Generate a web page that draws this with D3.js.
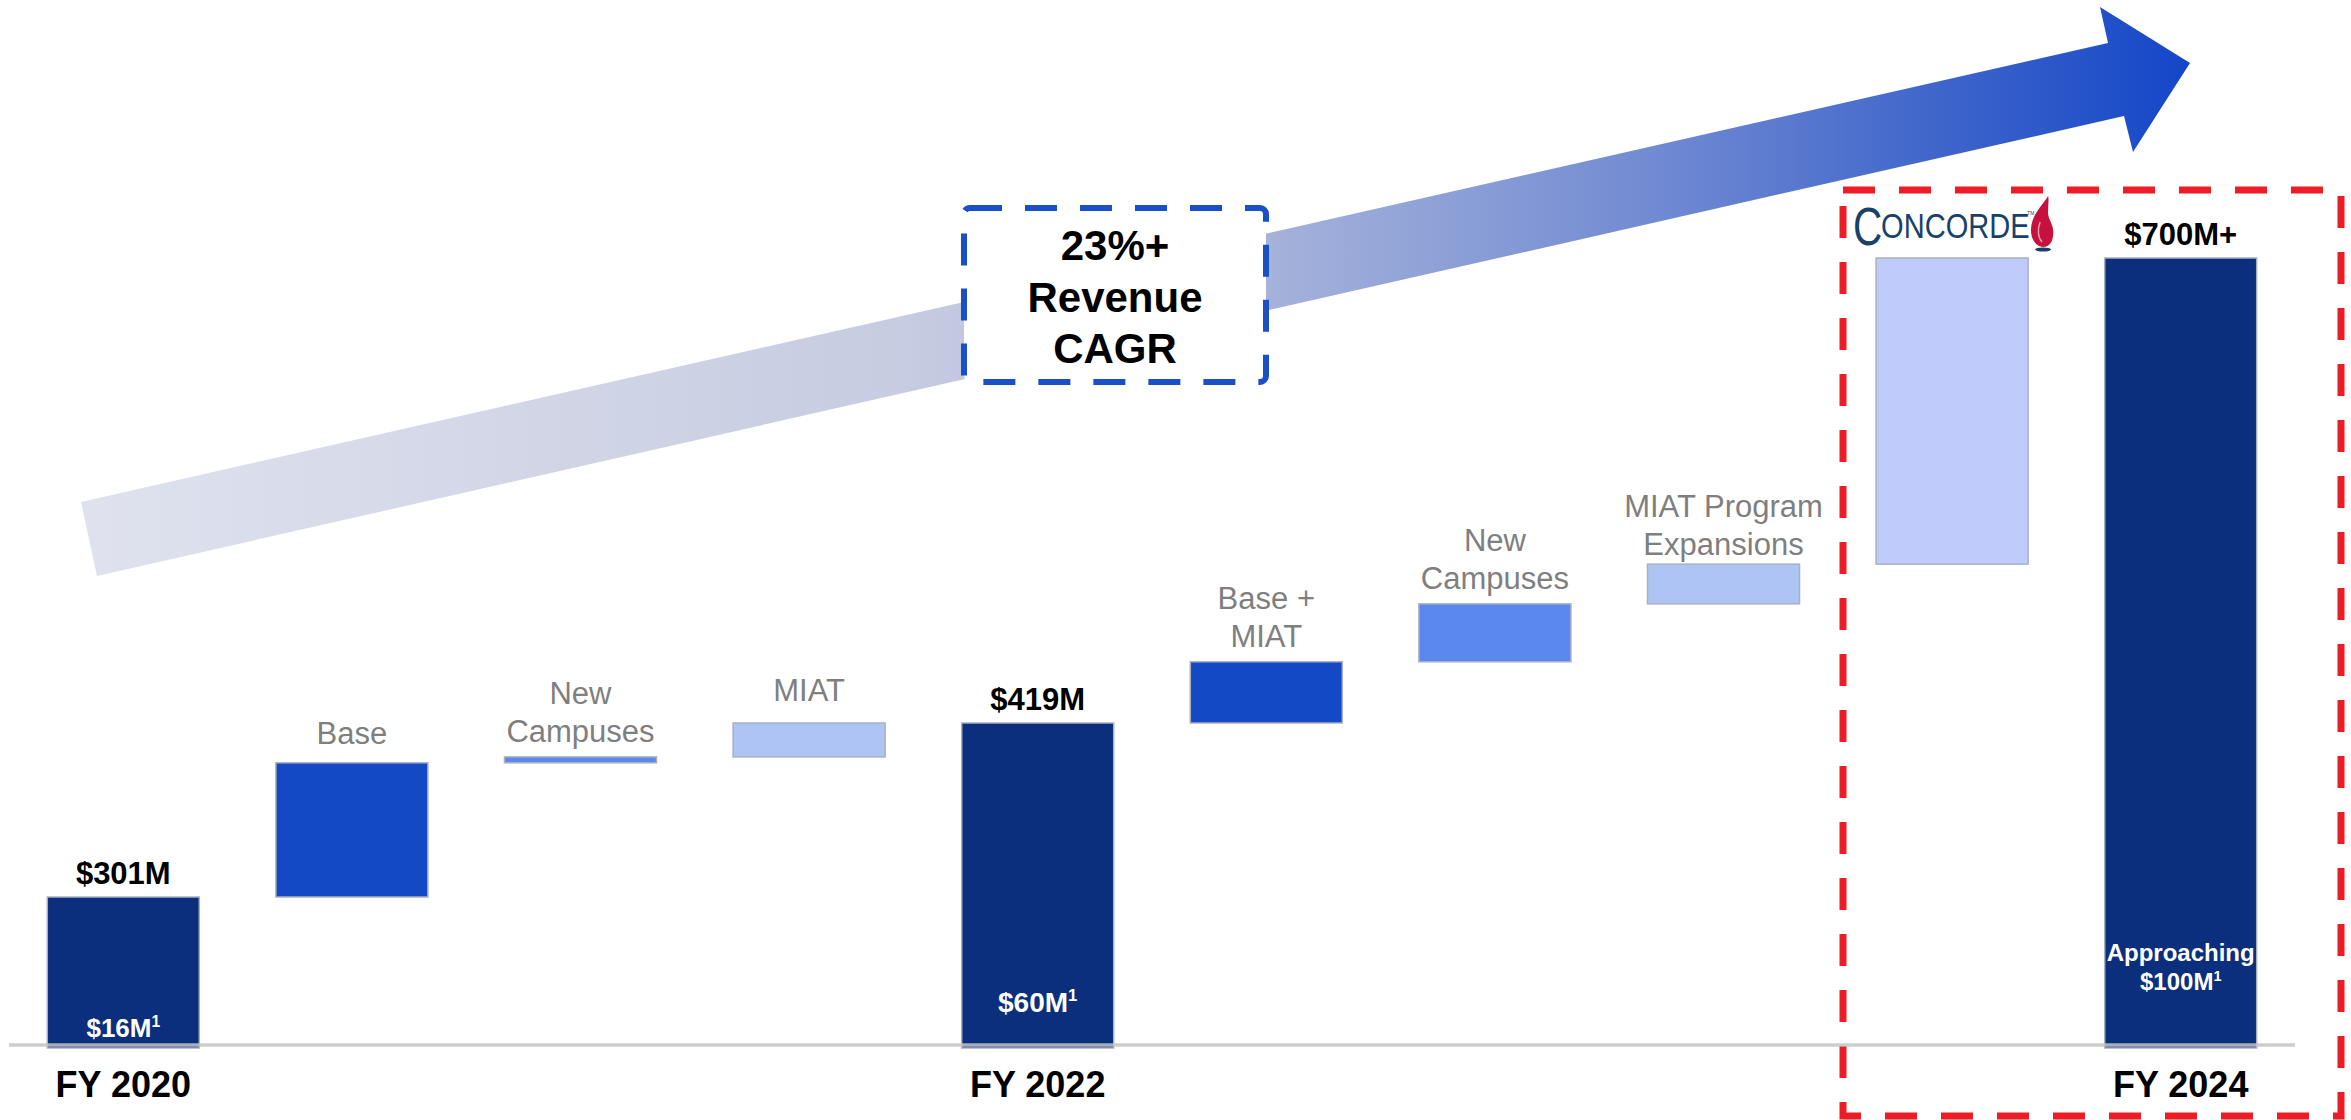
<!DOCTYPE html>
<html>
<head>
<meta charset="utf-8">
<script src="https://cdn.jsdelivr.net/npm/d3@7"></script>
<style>
  body { margin: 0; background: #fff; }
  text { font-family: "Liberation Sans", Arial, sans-serif; }
</style>
</head>
<body>
<div id="chart"></div>
<script>
// Waterfall steps, left to right
var steps = ["FY 2020", "Base", "New Campuses", "MIAT", "FY 2022", "Base + MIAT", "New Campuses", "MIAT Program Expansions", "Concorde", "FY 2024"];
var stepKinds = ["total", "base", "campus", "miat", "total", "base", "campus", "miat", "concorde", "total"];
var stepValues = [301, 91, 4, 23, 419, 37, 35, 24, 185, 700];
var totalLabels = ["$301M", "", "", "", "$419M", "", "", "", "", "$700M+"];
var stepLabels = [[], ["Base"], ["New", "Campuses"], ["MIAT"], [], ["Base +", "MIAT"], ["New", "Campuses"], ["MIAT Program", "Expansions"], [], []];
var innerLabels = [["$16M"], [], [], [], ["$60M"], [], [], [], [], ["Approaching", "$100M"]];
var axisLabels = ["FY 2020", "", "", "", "FY 2022", "", "", "", "", "FY 2024"];
var cagrLines = ["23%+", "Revenue", "CAGR"];
// the slide is not drawn to scale, so the axis is piecewise between the labelled totals
var scaleStops = [0, 301, 419, 700];

var W = 2351, H = 1120;

var colors = {
    total: "#0b2f7d",
    base: "#1349c4",
    campus: "#5b88ee",
    miat: "#adc4f5",
    concorde: "#bfcbfa"
};

// gap between grey step names and their bar
var labelGaps = [0, 19, 15, 22, 0, 15, 15, 9, 0, 0];
// where the white labels sit inside the total bars (px above the baseline, font size)
var innerOffsets = [[8], [], [], [], [33], [], [], [], [], [84, 55]];
var innerSizes = [26, 0, 0, 0, 28, 0, 0, 0, 0, 24];

var svg = d3.select("#chart")
    .append("svg")
    .attr("width", W)
    .attr("height", H);

var x = d3.scaleBand()
    .domain(d3.range(steps.length))
    .range([9, 2295])
    .paddingInner(0.335)
    .paddingOuter(0.1675);

var y = d3.scaleLinear()
    .domain(scaleStops)
    .range([1045, 897, 723, 258]);

// Running start / end of each step
var bars = [];
var running = 0;
stepValues.forEach(function(v, i) {
    if (stepKinds[i] === "total") {
        bars.push({ i: i, y0: 0, y1: v });
        running = v;
    } else {
        bars.push({ i: i, y0: running, y1: running + v });
        running += v;
    }
});

// Gradient arrow in the background
var defs = svg.append("defs");
var grad = defs.append("linearGradient")
    .attr("id", "arrowGrad")
    .attr("gradientUnits", "userSpaceOnUse")
    .attr("x1", 81).attr("y1", 0)
    .attr("x2", 2190).attr("y2", 0);
[[0, "#dfe2ee"], [0.39, "#c6cce1"], [0.56, "#a6b3da"], [0.75, "#7089d2"], [0.886, "#3d64cb"], [1, "#1446c8"]]
    .forEach(function(s) {
        grad.append("stop").attr("offset", s[0]).attr("stop-color", s[1]);
    });

svg.append("polygon")
    .attr("points", "81,502 2108,43 2100,7 2190,63 2133,152 2124,116 97,576")
    .attr("fill", "url(#arrowGrad)");

// CAGR call-out box
svg.append("rect")
    .attr("x", 964).attr("y", 208)
    .attr("width", 302).attr("height", 174)
    .attr("rx", 6)
    .attr("fill", "#fff")
    .attr("stroke", "#1a4fc8")
    .attr("stroke-width", 6)
    .attr("stroke-dasharray", "32 23");

svg.append("g")
    .selectAll("text")
    .data(cagrLines)
    .enter()
    .append("text")
    .attr("x", 1115)
    .attr("y", function(d, i) { return 260 + i * 51.5; })
    .attr("text-anchor", "middle")
    .attr("font-size", 42)
    .attr("font-weight", "bold")
    .attr("fill", "#000")
    .text(function(d) { return d; });

// Red dashed box around the FY 2024 part
svg.append("rect")
    .attr("x", 1843).attr("y", 190)
    .attr("width", 498).attr("height", 926)
    .attr("fill", "none")
    .attr("stroke", "#ee1c25")
    .attr("stroke-width", 7)
    .attr("stroke-dasharray", "32 24");

// Bars
svg.append("g")
    .selectAll("rect")
    .data(bars)
    .enter()
    .append("rect")
    .attr("x", function(d) { return x(d.i); })
    .attr("y", function(d) { return y(d.y1); })
    .attr("width", x.bandwidth())
    .attr("height", function(d) {
        return y(d.y0) - y(d.y1) + (stepKinds[d.i] === "total" ? 3 : 0);
    })
    .attr("fill", function(d) { return colors[stepKinds[d.i]]; })
    .attr("stroke", "#a9b0c0")
    .attr("stroke-width", 1.5);

// Baseline
svg.append("line")
    .attr("x1", x.range()[0]).attr("x2", x.range()[1])
    .attr("y1", y(0)).attr("y2", y(0))
    .attr("stroke", "#c4c4c4")
    .attr("stroke-opacity", 0.85)
    .attr("stroke-width", 3.5);

// Totals above the bars
svg.append("g")
    .selectAll("text")
    .data(bars.filter(function(d) { return totalLabels[d.i]; }))
    .enter()
    .append("text")
    .attr("x", function(d) { return x(d.i) + x.bandwidth() / 2; })
    .attr("y", function(d) { return y(d.y1) - 13; })
    .attr("text-anchor", "middle")
    .attr("font-size", 31)
    .attr("font-weight", "bold")
    .attr("fill", "#000")
    .text(function(d) { return totalLabels[d.i]; });

// Grey step names
var stepG = svg.append("g")
    .selectAll("text")
    .data(bars.filter(function(d) { return stepLabels[d.i].length; }))
    .enter()
    .append("text")
    .attr("text-anchor", "middle")
    .attr("font-size", 31)
    .attr("fill", "#7f7f7f");

stepG.selectAll("tspan")
    .data(function(d) {
        var lines = stepLabels[d.i];
        return lines.map(function(t, k) {
            return {
                t: t,
                x: x(d.i) + x.bandwidth() / 2,
                y: y(d.y1) - labelGaps[d.i] - (lines.length - 1 - k) * 38
            };
        });
    })
    .enter()
    .append("tspan")
    .attr("x", function(d) { return d.x; })
    .attr("y", function(d) { return d.y; })
    .text(function(d) { return d.t; });

// White labels inside the total bars, with footnote mark
bars.filter(function(d) { return innerLabels[d.i].length; }).forEach(function(d) {
    var lines = innerLabels[d.i];
    lines.forEach(function(t, k) {
        var txt = svg.append("text")
            .attr("x", x(d.i) + x.bandwidth() / 2)
            .attr("y", y(0) - innerOffsets[d.i][k])
            .attr("text-anchor", "middle")
            .attr("font-size", innerSizes[d.i])
            .attr("font-weight", "bold")
            .attr("fill", "#fff");
        txt.append("tspan").text(t);
        if (k === lines.length - 1) {
            txt.append("tspan")
                .attr("font-size", innerSizes[d.i] * 0.6)
                .attr("dy", -innerSizes[d.i] * 0.38)
                .text("1");
        }
    });
});

// Category axis labels
svg.append("g")
    .selectAll("text")
    .data(bars.filter(function(d) { return axisLabels[d.i]; }))
    .enter()
    .append("text")
    .attr("x", function(d) { return x(d.i) + x.bandwidth() / 2; })
    .attr("y", 1097)
    .attr("text-anchor", "middle")
    .attr("font-size", 36)
    .attr("font-weight", "bold")
    .attr("fill", "#000")
    .text(function(d) { return axisLabels[d.i]; });

// Concorde logo above its bar
var cx = x(8) + x.bandwidth() / 2;
var logo = svg.append("g").attr("transform", "translate(" + cx + ",0)");
var serif = "'Liberation Serif', 'DejaVu Serif', serif";
logo.append("text")
    .attr("transform", "translate(-99,245) scale(0.75,1)")
    .attr("font-family", serif)
    .attr("font-size", 54)
    .attr("fill", "#17416a")
    .text("C");
logo.append("text")
    .attr("transform", "translate(-71,238) scale(0.83,1)")
    .attr("font-family", serif)
    .attr("font-size", 35)
    .attr("fill", "#17416a")
    .text("ONCORDE");
logo.append("text")
    .attr("x", 75).attr("y", 215)
    .attr("font-size", 5)
    .attr("fill", "#17416a")
    .text("TM");
logo.append("path")
    .attr("d", "M96,196 C90,206 80,214 79,228 C78,240 85,247 91,247 C98,247 102,240 101,230 C100,222 95,218 96,210 C96,205 97,200 96,196 Z")
    .attr("fill", "#c8103e");
logo.append("path")
    .attr("d", "M88,222 C85,230 86,238 90,242")
    .attr("fill", "none")
    .attr("stroke", "#fff")
    .attr("stroke-opacity", 0.6)
    .attr("stroke-width", 1.5);
logo.append("ellipse")
    .attr("cx", 91).attr("cy", 249.5)
    .attr("rx", 8).attr("ry", 2)
    .attr("fill", "#17416a");
</script>
</body>
</html>
